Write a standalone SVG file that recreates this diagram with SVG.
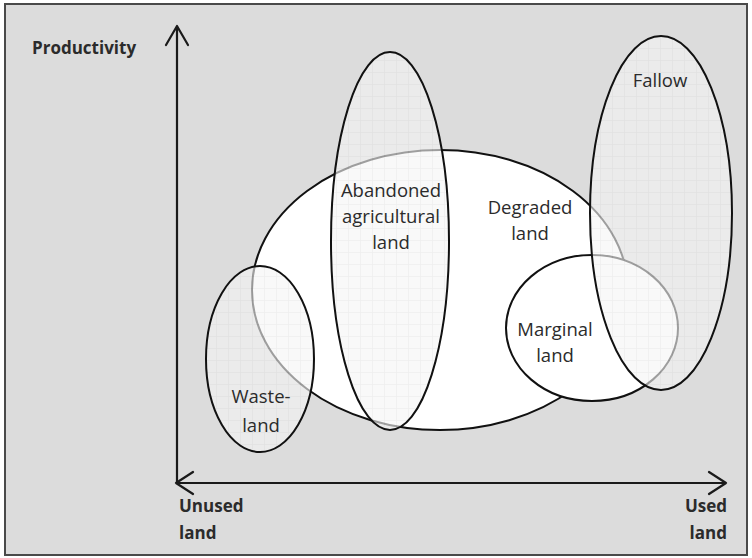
<svg xmlns="http://www.w3.org/2000/svg" width="752" height="558" viewBox="0 0 752 558">
<defs>
<pattern id="grid" width="12" height="12" patternUnits="userSpaceOnUse">
<rect width="12" height="12" fill="#f5f5f5"/>
<path d="M0 0.5H12M0.5 0V12" stroke="#e4e4e4" stroke-width="0.7"/>
</pattern>
<style>
.bg{fill:#dcdcdc;stroke:#4a4a4a;stroke-width:2}
.ax{fill:none;stroke:#1a1a1a;stroke-width:2.2;stroke-linecap:round;stroke-linejoin:round}
.solid{fill:#ffffff;stroke:#111;stroke-width:2}
.trans{fill:url(#grid);fill-opacity:0.62}
.edge{fill:none;stroke:#111;stroke-width:2}
.lbl{font-family:"Open Sans","Liberation Sans",sans-serif;font-size:18.5px;fill:#2b2b2b;text-anchor:middle}
.axl{font-family:"Open Sans","Liberation Sans",sans-serif;font-size:17px;font-weight:bold;fill:#2b2b2b}
</style>
</defs>
<rect class="bg" x="5" y="4" width="742" height="551"/>
<g id="degraded">
<ellipse class="solid" cx="440" cy="290" rx="188" ry="140"/>
</g>
<g id="marginal">
<ellipse class="solid" cx="592" cy="328" rx="86" ry="73"/>
</g>
<g id="abandoned">
<ellipse class="trans" cx="390" cy="241" rx="59" ry="189"/>
<ellipse class="edge" cx="390" cy="241" rx="59" ry="189"/>
</g>
<g id="wasteland">
<ellipse class="trans" cx="260" cy="359" rx="54" ry="93"/>
<ellipse class="edge" cx="260" cy="359" rx="54" ry="93"/>
</g>
<g id="fallow">
<ellipse class="trans" cx="661" cy="213" rx="71" ry="177"/>
<ellipse class="edge" cx="661" cy="213" rx="71" ry="177"/>
</g>
<g id="connectors">
<path class="ax" d="M177 483V26M166 45L177 26L188 45"/>
<path class="ax" d="M176 483H726M193 472L176 483L193 494M709 472L726 483L709 494"/>
</g>
<g id="labels">
<text class="lbl" x="391" y="197">Abandoned</text>
<text class="lbl" x="391" y="223">agricultural</text>
<text class="lbl" x="391" y="249">land</text>
<text class="lbl" x="530" y="214">Degraded</text>
<text class="lbl" x="530" y="240">land</text>
<text class="lbl" x="555" y="336">Marginal</text>
<text class="lbl" x="555" y="362">land</text>
<text class="lbl" x="261" y="403">Waste-</text>
<text class="lbl" x="261" y="432">land</text>
<text class="lbl" x="660" y="87">Fallow</text>
<text class="axl" x="32" y="54">Productivity</text>
<text class="axl" x="179" y="512">Unused</text>
<text class="axl" x="179" y="539">land</text>
<text class="axl" x="727" y="512" text-anchor="end">Used</text>
<text class="axl" x="727" y="539" text-anchor="end">land</text>
</g>
</svg>
